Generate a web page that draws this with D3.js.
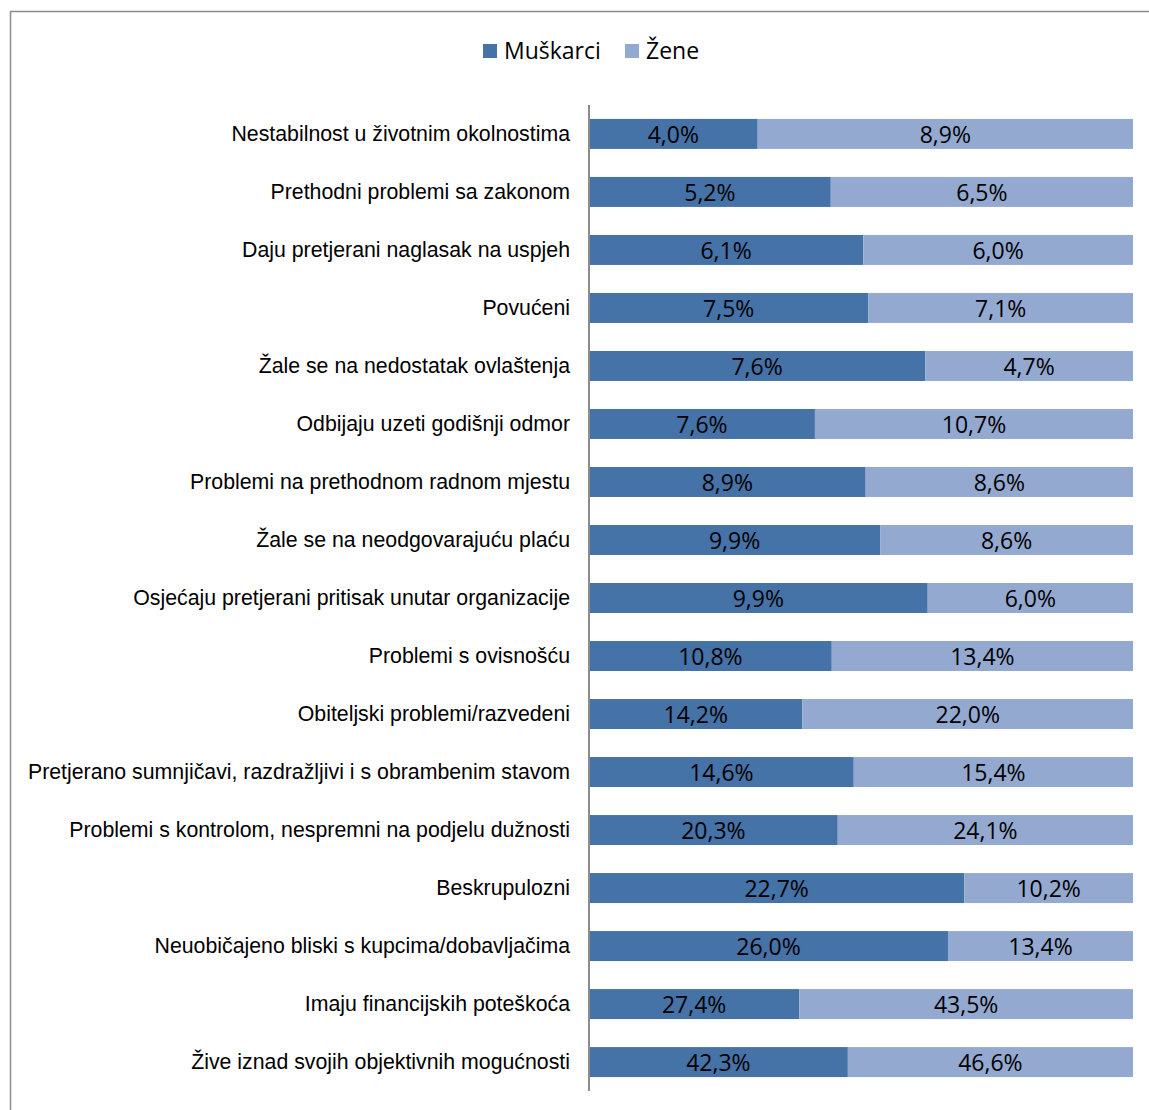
<!DOCTYPE html>
<html>
<head>
<meta charset="utf-8">
<script src="https://cdn.jsdelivr.net/npm/d3@7"></script>
<style>
  body { margin: 0; background: #fff; }
  svg { display: block; }
</style>
</head>
<body>
<script>
// chart data, top row first
const categories = [
  "Nestabilnost u životnim okolnostima",
  "Prethodni problemi sa zakonom",
  "Daju pretjerani naglasak na uspjeh",
  "Povućeni",
  "Žale se na nedostatak ovlaštenja",
  "Odbijaju uzeti godišnji odmor",
  "Problemi na prethodnom radnom mjestu",
  "Žale se na neodgovarajuću plaću",
  "Osjećaju pretjerani pritisak unutar organizacije",
  "Problemi s ovisnošću",
  "Obiteljski problemi/razvedeni",
  "Pretjerano sumnjičavi, razdražljivi i s obrambenim stavom",
  "Problemi s kontrolom, nespremni na podjelu dužnosti",
  "Beskrupulozni",
  "Neuobičajeno bliski s kupcima/dobavljačima",
  "Imaju financijskih poteškoća",
  "Žive iznad svojih objektivnih mogućnosti"
];
const muskarci = [4.0, 5.2, 6.1, 7.5, 7.6, 7.6, 8.9, 9.9, 9.9, 10.8, 14.2, 14.6, 20.3, 22.7, 26.0, 27.4, 42.3];
const zene = [8.9, 6.5, 6.0, 7.1, 4.7, 10.7, 8.6, 8.6, 6.0, 13.4, 22.0, 15.4, 24.1, 10.2, 13.4, 43.5, 46.6];
const seriesNames = ["Muškarci", "Žene"];
const colors = ["#4572A7", "#93A9CF"];

const width = 1149, height = 1110;
const svg = d3.select("body").append("svg")
  .attr("width", width)
  .attr("height", height);

// outer frame (right and bottom edges fall outside the picture)
svg.append("path")
  .attr("d", `M10.5,${height} V11.5 H${width}`)
  .attr("fill", "none")
  .attr("stroke", "#8c8c8c")
  .attr("stroke-width", 1.5);

const rows = categories.map((c, i) => ({ cat: c, m: muskarci[i], z: zene[i] }));

const x = d3.scaleLinear().domain([0, 1]).range([589, 1133]);
const y = d3.scaleBand()
  .domain(categories)
  .range([105, 1091])
  .paddingInner(0.483)
  .paddingOuter(0.24);

const stack = d3.stack()
  .keys(["m", "z"])
  .offset(d3.stackOffsetExpand);
const layers = stack(rows);

const valueFmt = v => v.toFixed(1).replace(".", ",") + "%";

const g = svg.append("g");
layers.forEach((layer, li) => {
  const grp = g.append("g").attr("fill", colors[li]);
  grp.selectAll("rect")
    .data(layer)
    .join("rect")
    .attr("x", d => x(d[0]))
    .attr("y", d => y(d.data.cat))
    .attr("width", d => x(d[1]) - x(d[0]))
    .attr("height", y.bandwidth());

  g.append("g").selectAll("text")
    .data(layer)
    .join("text")
    .attr("x", d => (x(d[0]) + x(d[1])) / 2)
    .attr("y", d => y(d.data.cat) + y.bandwidth() / 2)
    .attr("dy", "0.4em")
    .attr("text-anchor", "middle")
    .attr("font-family", "'Open Sans', sans-serif")
    .attr("font-size", 23)
    .attr("fill", "#000")
    .text(d => valueFmt(li === 0 ? d.data.m : d.data.z));
});

// category axis
const yAxis = d3.axisLeft(y).tickSize(0).tickPadding(19);
const ax = svg.append("g")
  .attr("transform", `translate(${x.range()[0]},0)`)
  .call(yAxis);
ax.select(".domain").attr("stroke", "#8c8c8c").attr("stroke-width", 2)
  .attr("d", `M0,${y.range()[0]}V${y.range()[1]}`);
ax.selectAll("text")
  .attr("font-family", "'Liberation Sans', Arial, sans-serif")
  .attr("font-size", 21.3)
  .attr("fill", "#000");

// legend
const legend = svg.append("g").attr("transform", "translate(483,51)");
const legendX = [0, 142];
seriesNames.forEach((name, i) => {
  const item = legend.append("g").attr("transform", `translate(${legendX[i]},0)`);
  item.append("rect")
    .attr("x", 0).attr("y", -7)
    .attr("width", 14).attr("height", 14)
    .attr("fill", colors[i]);
  item.append("text")
    .attr("x", 21)
    .attr("dy", "0.36em")
    .attr("font-family", "'Open Sans', sans-serif")
    .attr("font-size", 23)
    .attr("fill", "#000")
    .text(name);
});
</script>
</body>
</html>
